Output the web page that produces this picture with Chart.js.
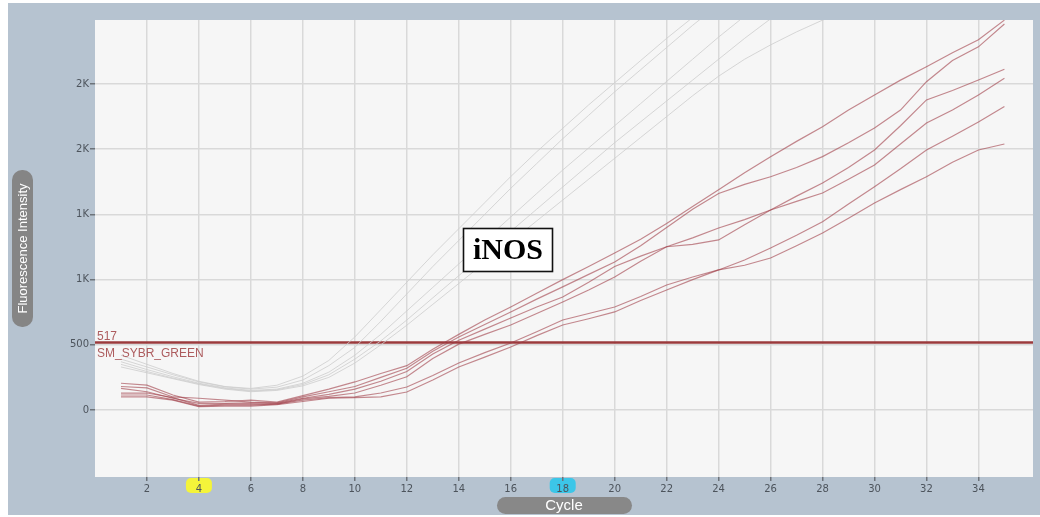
<!DOCTYPE html>
<html>
<head>
<meta charset="utf-8">
<script src="https://cdn.jsdelivr.net/npm/chart.js@4/dist/chart.umd.min.js"></script>
<style>
  html, body { margin: 0; padding: 0; background: #ffffff; }
  canvas { display: block; }
</style>
</head>
<body>
<canvas id="amp" width="1040" height="517"></canvas>
<script>
// Amplification cycles
const cycles = [1,2,3,4,5,6,7,8,9,10,11,12,13,14,15,16,17,18,19,20,21,22,23,24,25,26,27,28,29,30,31,32,33,34,35];

// Axis ticks
const xTickValues = [2,4,6,8,10,12,14,16,18,20,22,24,26,28,30,32,34];
const yTickValues = [0,500,1000,1500,2000,2500];
const yTickLabels = ['0','500','1K','1K','2K','2K'];

// Threshold and baseline markers
const thresholdValue = 517;
const thresholdName = 'SM_SYBR_GREEN';
const baselineMarks = [4, 18];
const targetName = 'iNOS';

// iNOS wells (fluorescence per cycle)
const wellA = [205,190,115,60,65,75,60,110,160,215,280,340,465,580,690,790,895,1000,1100,1204,1310,1430,1560,1690,1820,1943,2060,2173,2300,2416,2530,2633,2740,2840,2990];
const wellB = [180,170,100,90,75,60,55,100,140,180,250,320,450,560,655,752,850,944,1040,1135,1260,1400,1540,1660,1730,1789,1860,1943,2050,2163,2300,2518,2680,2785,2960];
const wellC = [165,140,90,50,50,55,50,90,120,160,220,295,430,535,620,706,790,867,980,1100,1180,1252,1320,1396,1460,1534,1640,1741,1860,1994,2180,2378,2450,2531,2613];
const wellD = [130,130,95,35,45,45,45,85,105,130,190,255,395,505,580,652,740,828,920,1020,1140,1252,1270,1304,1420,1534,1600,1664,1770,1879,2040,2201,2300,2416,2544];
const wellE = [115,115,80,30,38,38,45,75,95,100,130,176,265,360,440,514,600,690,740,790,870,959,1020,1074,1150,1242,1340,1444,1580,1713,1850,1994,2100,2209,2327];
const wellF = [100,100,75,25,30,30,40,65,90,95,100,138,230,330,405,483,570,652,700,752,840,920,1000,1074,1110,1166,1260,1357,1470,1588,1690,1789,1900,1994,2040];

// Other wells on the plate (shown faded)
const otherA = [420,350,280,220,180,165,190,260,380,560,770,980,1190,1390,1590,1790,1980,2160,2340,2510,2680,2850,3010,3170];
const otherB = [390,330,270,215,178,160,175,230,340,480,680,890,1100,1300,1500,1700,1890,2080,2260,2440,2610,2780,2950,3110];
const otherC = [370,310,255,205,170,150,160,205,290,420,580,760,940,1120,1300,1480,1660,1840,2010,2180,2350,2520,2690,2860,3020];
const otherD = [350,295,245,200,165,145,155,195,270,390,530,690,860,1030,1200,1370,1540,1710,1880,2050,2210,2370,2530,2690,2850,3000,3150];
const otherE = [330,285,240,195,160,140,150,185,250,360,500,650,810,970,1130,1290,1450,1610,1770,1930,2090,2250,2410,2560,2690,2800,2900,2990,3060];

const toPoints = vals => vals.map((v, i) => ({ x: cycles[i], y: v }));

const faded = [otherA, otherB, otherC, otherD, otherE].map(v => ({
  data: toPoints(v),
  borderColor: 'rgba(205,205,205,0.8)',
  borderWidth: 1,
  pointRadius: 0,
  tension: 0
}));

const target = [wellA, wellB, wellC, wellD, wellE, wellF].map(v => ({
  data: toPoints(v),
  borderColor: 'rgba(160,62,72,0.6)',
  borderWidth: 1.2,
  pointRadius: 0,
  tension: 0
}));

const thresholdSet = {
  data: [{ x: 0, y: thresholdValue }, { x: 36.1, y: thresholdValue }],
  borderColor: '#9b3a3c',
  borderWidth: 2.6,
  pointRadius: 0,
  tension: 0
};

function roundRect(ctx, x, y, w, h, r) {
  ctx.beginPath();
  ctx.moveTo(x + r, y);
  ctx.lineTo(x + w - r, y);
  ctx.arcTo(x + w, y, x + w, y + r, r);
  ctx.lineTo(x + w, y + h - r);
  ctx.arcTo(x + w, y + h, x + w - r, y + h, r);
  ctx.lineTo(x + r, y + h);
  ctx.arcTo(x, y + h, x, y + h - r, r);
  ctx.lineTo(x, y + r);
  ctx.arcTo(x, y, x + r, y, r);
  ctx.closePath();
}

// Panel background, plot background and baseline cycle badges
const panel = {
  id: 'panel',
  beforeDraw(chart) {
    const { ctx, chartArea: a } = chart;
    const xs = chart.scales.x;
    ctx.save();
    ctx.fillStyle = '#ffffff';
    ctx.fillRect(0, 0, chart.width, chart.height);
    ctx.fillStyle = '#b6c3d0';
    ctx.fillRect(8, 3, chart.width - 8, 512);
    ctx.fillStyle = '#f6f6f6';
    ctx.fillRect(a.left, a.top, a.right - a.left, a.bottom - a.top);
    const badgeColors = ['#f4f43a', '#3cc6e8'];
    baselineMarks.forEach((c, i) => {
      const px = xs.getPixelForValue(c);
      ctx.fillStyle = badgeColors[i];
      roundRect(ctx, px - 13, a.bottom + 1, 26, 15, 5);
      ctx.fill();
    });
    ctx.restore();
  }
};

// Threshold labels and target name box
const notes = {
  id: 'notes',
  afterDatasetsDraw(chart) {
    const { ctx, chartArea: a } = chart;
    const ty = chart.scales.y.getPixelForValue(thresholdValue);
    ctx.save();
    ctx.font = '12px "Liberation Sans", Arial, sans-serif';
    ctx.fillStyle = '#ad5c5e';
    ctx.textAlign = 'left';
    ctx.textBaseline = 'alphabetic';
    ctx.fillText(String(thresholdValue), a.left + 2, ty - 3);
    ctx.textBaseline = 'top';
    ctx.fillText(thresholdName, a.left + 2, ty + 5);

    ctx.fillStyle = '#ffffff';
    ctx.fillRect(463, 228, 90, 44);
    ctx.strokeStyle = '#111111';
    ctx.lineWidth = 1.6;
    ctx.strokeRect(463.5, 228.5, 89, 43);
    ctx.fillStyle = '#000000';
    ctx.font = 'bold 30px "Liberation Serif", "Times New Roman", serif';
    ctx.textAlign = 'center';
    ctx.textBaseline = 'middle';
    ctx.fillText(targetName, 508, 251);
    ctx.restore();
  },
  afterDraw(chart) {
    const { ctx } = chart;
    ctx.save();
    // y axis title pill
    ctx.fillStyle = '#858585';
    roundRect(ctx, 12, 170, 21, 157, 10);
    ctx.fill();
    ctx.translate(22.5, 248.5);
    ctx.rotate(-Math.PI / 2);
    ctx.fillStyle = '#ffffff';
    ctx.font = '13px "Liberation Sans", Arial, sans-serif';
    ctx.textAlign = 'center';
    ctx.textBaseline = 'middle';
    ctx.fillText('Fluorescence Intensity', 0, 1);
    ctx.setTransform(1, 0, 0, 1, 0, 0);
    // x axis title pill
    ctx.fillStyle = '#888888';
    roundRect(ctx, 497, 497, 135, 17, 8.5);
    ctx.fill();
    ctx.fillStyle = '#ffffff';
    ctx.font = '15px "Liberation Sans", Arial, sans-serif';
    ctx.textAlign = 'center';
    ctx.textBaseline = 'middle';
    ctx.fillText('Cycle', 564, 506);
    ctx.restore();
  }
};

new Chart(document.getElementById('amp'), {
  type: 'line',
  data: { datasets: [...faded, ...target, thresholdSet] },
  options: {
    responsive: false,
    animation: false,
    events: [],
    layout: { padding: { top: 20, right: 7, left: 0, bottom: 0 } },
    plugins: { legend: { display: false }, title: { display: false }, tooltip: { enabled: false } },
    scales: {
      x: {
        type: 'linear',
        min: 0,
        max: 36.1,
        afterBuildTicks: s => { s.ticks = xTickValues.map(v => ({ value: v })); },
        afterFit: s => { s.height = 40; },
        border: { display: false },
        grid: { color: '#d9d9d9', lineWidth: 1.5, tickLength: 4, tickColor: '#6d737a' },
        ticks: {
          padding: 2,
          color: '#4d545c',
          font: { family: '"DejaVu Sans", sans-serif', size: 10 },
          maxRotation: 0,
          autoSkip: false
        }
      },
      y: {
        type: 'linear',
        min: -514,
        max: 2991,
        afterBuildTicks: s => { s.ticks = yTickValues.map(v => ({ value: v })); },
        afterFit: s => { s.width = 95; },
        border: { display: false },
        grid: { color: '#d9d9d9', lineWidth: 1.5, tickLength: 5, tickColor: '#6d737a' },
        ticks: {
          padding: 1,
          color: '#4d545c',
          font: { family: '"DejaVu Sans", sans-serif', size: 10 },
          callback: (v) => {
            const i = yTickValues.indexOf(v);
            return i >= 0 ? yTickLabels[i] : '';
          }
        }
      }
    }
  },
  plugins: [panel, notes]
});
</script>
</body>
</html>
